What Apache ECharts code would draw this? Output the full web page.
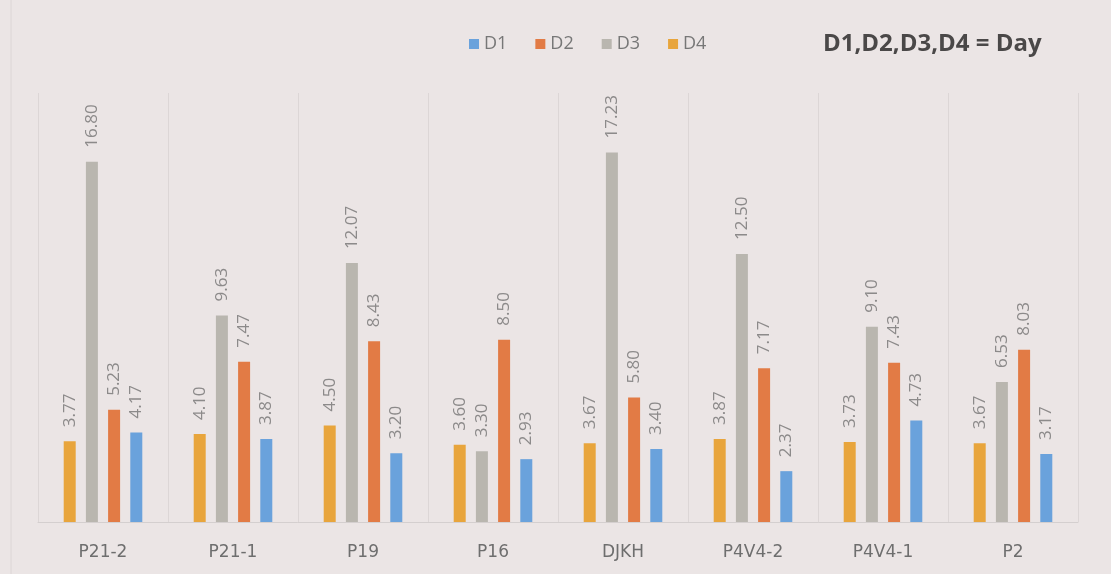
<!DOCTYPE html>
<html>
<head>
<meta charset="utf-8">
<script src="https://cdn.jsdelivr.net/npm/echarts@6/dist/echarts.min.js"></script>
<style>
  html, body { margin: 0; padding: 0; background: #ebe5e5; }
  #chart { width: 1111px; height: 574px; }
</style>
</head>
<body>
<div id="chart"></div>
<script>
// Sample groups along the x axis
const categories = ['P21-2', 'P21-1', 'P19', 'P16', 'DJKH', 'P4V4-2', 'P4V4-1', 'P2'];

// Measured values per day
const d1 = [4.17, 3.87, 3.20, 2.93, 3.40, 2.37, 4.73, 3.17];
const d2 = [5.23, 7.47, 8.43, 8.50, 5.80, 7.17, 7.43, 8.03];
const d3 = [16.80, 9.63, 12.07, 3.30, 17.23, 12.50, 9.10, 6.53];
const d4 = [3.77, 4.10, 4.50, 3.60, 3.67, 3.87, 3.73, 3.67];

const legendNames = ['D1', 'D2', 'D3', 'D4'];
const titleText = 'D1,D2,D3,D4 = Day';

const colors = { D1: '#6aa2dc', D2: '#e27b45', D3: '#b9b6af', D4: '#e8a53c' };

function barSeries(name, values) {
  return {
    name: name,
    type: 'bar',
    data: values,
    barWidth: 12,
    barGap: '85%',
    itemStyle: { color: colors[name] },
    label: {
      show: true,
      position: 'top',
      rotate: 90,
      align: 'left',
      verticalAlign: 'middle',
      distance: 14,
      color: '#8c8a8a',
      fontSize: 17,
      fontFamily: 'Open Sans, Liberation Sans, sans-serif',
      formatter: p => p.value.toFixed(2)
    }
  };
}

const chart = echarts.init(document.getElementById('chart'), null, { renderer: 'canvas' });
chart.setOption({
  backgroundColor: '#ebe5e5',
  animation: false,
  title: {
    text: titleText,
    left: 818,
    top: 27,
    textStyle: {
      color: '#4a4848',
      fontSize: 24,
      fontWeight: 'bold',
      fontFamily: 'Open Sans, Liberation Sans, sans-serif'
    }
  },
  legend: {
    data: legendNames,
    left: 464,
    top: 30,
    itemWidth: 10,
    itemHeight: 10,
    itemGap: 28,
    icon: 'rect',
    textStyle: {
      color: '#777',
      fontSize: 18,
      fontFamily: 'Open Sans, Liberation Sans, sans-serif'
    }
  },
  graphic: [{
    type: 'line',
    shape: { x1: 11, y1: 0, x2: 11, y2: 574 },
    style: { stroke: '#dcd6d6', lineWidth: 1 },
    silent: true
  }],
  grid: { left: 38, right: 33, top: 93, bottom: 52 },
  xAxis: {
    type: 'category',
    data: categories,
    axisTick: { show: false },
    axisLine: { lineStyle: { color: '#d4cfcf', width: 1 } },
    splitLine: { show: true, lineStyle: { color: '#dcd6d6', width: 1 } },
    axisLabel: {
      color: '#6e6e6e',
      fontSize: 17,
      margin: 22,
      interval: 0,
      fontFamily: 'DejaVu Sans, sans-serif'
    }
  },
  yAxis: {
    type: 'value',
    min: 0,
    max: 20,
    show: false,
    splitLine: { show: false }
  },
  series: [
    barSeries('D4', d4),
    barSeries('D3', d3),
    barSeries('D2', d2),
    barSeries('D1', d1)
  ]
});
</script>
</body>
</html>
